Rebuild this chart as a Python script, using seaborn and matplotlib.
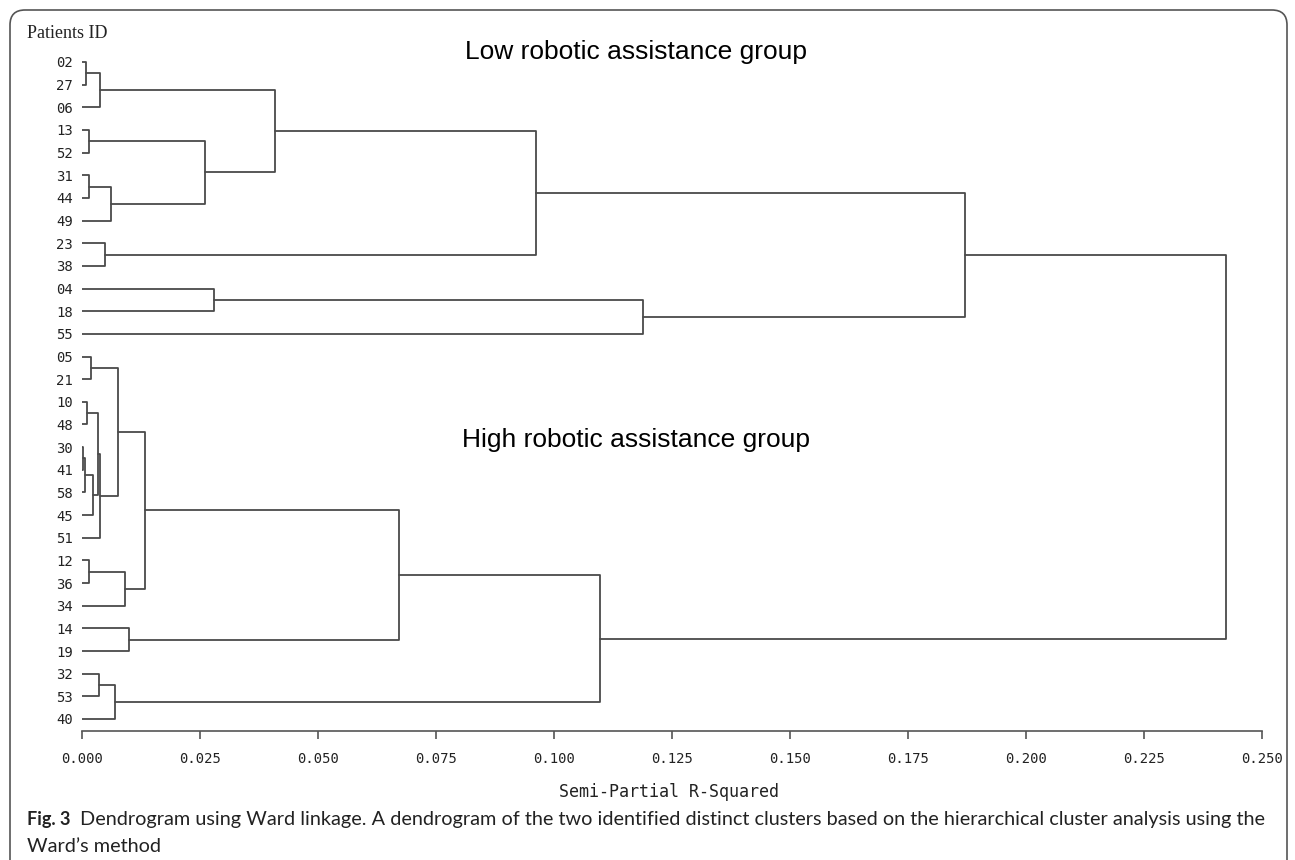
import numpy as np
import pandas as pd
import matplotlib
matplotlib.use("Agg")
import matplotlib.pyplot as plt
from matplotlib.patches import FancyBboxPatch
from matplotlib.transforms import IdentityTransform
import seaborn as sns

# leaf order, top to bottom
patient_ids = ["02", "27", "06", "13", "52", "31", "44", "49", "23", "38",
               "04", "18", "55", "05", "21", "10", "48", "30", "41", "58",
               "45", "51", "12", "36", "34", "14", "19", "32", "53", "40"]

# merges (scipy-like): leaves are 0..29, merge k makes cluster 30 + k
merge_left = [0, 30, 3, 5, 33, 32, 31, 8, 36, 10, 39, 38,
              13, 15, 17, 44, 45, 43, 47, 42, 22, 50, 49, 25, 52, 27, 55, 54, 41]
merge_right = [1, 2, 4, 6, 7, 34, 35, 9, 37, 11, 12, 40,
               14, 16, 18, 19, 20, 46, 21, 48, 23, 24, 51, 26, 53, 28, 29, 56, 57]
merge_height = [0.0008, 0.0038, 0.0015, 0.0015, 0.0061, 0.0260, 0.0409, 0.0049,
                0.0962, 0.0280, 0.1189, 0.1871,
                0.0019, 0.0011, 0.0002, 0.0006, 0.0023, 0.0033, 0.0038, 0.0076,
                0.0015, 0.0092, 0.0134, 0.0100, 0.0672, 0.0036, 0.0070, 0.1097,
                0.2424]

x_ticks = [0.0, 0.025, 0.05, 0.075, 0.1, 0.125, 0.15, 0.175, 0.2, 0.225, 0.25]

caption_bold = "Fig. 3"
caption_line1 = ("Dendrogram using Ward linkage. A dendrogram of the two identified distinct "
                 "clusters based on the hierarchical cluster analysis using the")
caption_line2 = "Ward\u2019s method"

# build the dendrogram segments
n = len(patient_ids)
pos = {i: float(i) for i in range(n)}
height = {i: 0.0 for i in range(n)}
rows = []
for k, (a, b, h) in enumerate(zip(merge_left, merge_right, merge_height)):
    pts = [(height[a], pos[a]), (h, pos[a]), (h, pos[b]), (height[b], pos[b])]
    for j, (x, y) in enumerate(pts):
        rows.append({"x": x, "y": y, "merge": k, "step": j})
    pos[n + k] = (pos[a] + pos[b]) / 2
    height[n + k] = h
segs = pd.DataFrame(rows)

sns.set_theme(style="white")
plt.rcParams["font.family"] = ["DejaVu Sans"]

W, H = 1295, 860
fig = plt.figure(figsize=(W / 100, H / 100), dpi=100)
ax = fig.add_axes([82 / W, (H - 731) / H, (1262 - 82) / W, (731 - 28) / H])

line_col = "#4a4a4a"
sns.lineplot(data=segs, x="x", y="y", units="merge", estimator=None, sort=False,
             color=line_col, linewidth=1.3, ax=ax, legend=False)

ax.set_xlim(0, 0.25)
ax.set_ylim(n - 1 + 0.53, -1.5)
ax.set_xticks(x_ticks)
ax.set_xticklabels([f"{v:.3f}" for v in x_ticks], family="DejaVu Sans Mono", fontsize=10)
ax.set_yticks(range(n))
ax.set_yticklabels(patient_ids, family="DejaVu Sans Mono", fontsize=10)
ax.tick_params(axis="x", direction="out", length=6, width=1.2, color="#555555",
               pad=9, labelcolor="#222222", bottom=True)
ax.tick_params(axis="y", length=0, pad=6.5, labelcolor="#222222")
ax.set_xlabel("")
ax.set_ylabel("")
for s in ["top", "right", "left"]:
    ax.spines[s].set_visible(False)
ax.spines["bottom"].set_color("#555555")
ax.spines["bottom"].set_linewidth(1.2)

fig.text(669 / W, 1 - 792 / H, "Semi-Partial R-Squared", family="DejaVu Sans Mono",
         fontsize=12, ha="center", va="center", color="#222222")
fig.text(27 / W, 1 - 33 / H, "Patients ID", family="Liberation Serif",
         fontsize=13, ha="left", va="center", color="#222222")
fig.text(636 / W, 1 - 52 / H, "Low robotic assistance group", family="Liberation Sans",
         fontsize=19, ha="center", va="center", color="black")
fig.text(636 / W, 1 - 440 / H, "High robotic assistance group", family="Liberation Sans",
         fontsize=19, ha="center", va="center", color="black")

# caption, bold label followed by regular text
renderer = fig.canvas.get_renderer()
t_bold = fig.text(27 / W, 1 - 825 / H, caption_bold, family="Lato", weight="bold",
                  fontsize=13, ha="left", va="baseline", color="#222222")
bb = t_bold.get_window_extent(renderer)
x_start = bb.x1 + 10
t1 = fig.text(x_start / W, 1 - 825 / H, caption_line1, family="Lato",
              fontsize=13, ha="left", va="baseline", color="#222222")
w1 = t1.get_window_extent(renderer).width
t1.set_fontsize(13 * (1265 - x_start) / w1)
fig.text(27 / W, 1 - 852 / H, caption_line2, family="Lato",
         fontsize=t1.get_fontsize(), ha="left", va="baseline", color="#222222")

frame = FancyBboxPatch((10, -40), 1277, H - 10 + 40,
                       boxstyle="round,pad=0,rounding_size=15",
                       transform=IdentityTransform(), fill=False,
                       edgecolor="#555555", linewidth=1.2, clip_on=False)
fig.patches.append(frame)

fig.savefig("out.png", dpi=100)
